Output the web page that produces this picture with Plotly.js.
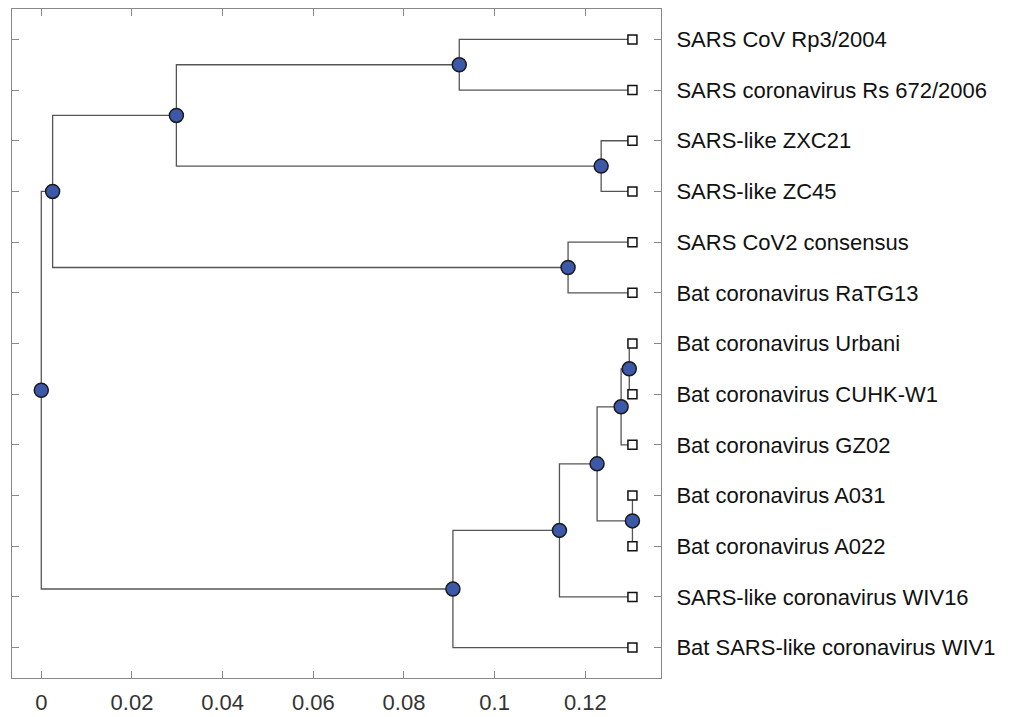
<!DOCTYPE html>
<html>
<head>
<meta charset="utf-8">
<script src="https://cdn.plot.ly/plotly-3.0.1.min.js"></script>
<style>html,body{margin:0;padding:0;background:#fff;}#chart{width:1011px;height:717px;}</style>
</head>
<body>
<div id="chart"></div>
<script>
// Leaf names (top to bottom)
const leafNames = [
  "SARS CoV Rp3/2004",
  "SARS coronavirus Rs 672/2006",
  "SARS-like ZXC21",
  "SARS-like ZC45",
  "SARS CoV2 consensus",
  "Bat coronavirus RaTG13",
  "Bat coronavirus Urbani",
  "Bat coronavirus CUHK-W1",
  "Bat coronavirus GZ02",
  "Bat coronavirus A031",
  "Bat coronavirus A022",
  "SARS-like coronavirus WIV16",
  "Bat SARS-like coronavirus WIV1"
];
// Leaf distances from root
const leafDist = [0.1304, 0.1304, 0.1304, 0.1304, 0.1304, 0.1304, 0.1304, 0.1304, 0.1304, 0.1304, 0.1304, 0.1304, 0.1304];

// Internal nodes: id, distance from root, children (Lk = leaf k, Nk = node k)
const nodeIds   = ["N0", "N1", "N2", "N3", "N4", "N5", "N6", "N7", "N8", "N9", "N10", "N11"];
const nodeDist  = [0.0, 0.0025, 0.0298, 0.0922, 0.1235, 0.1162, 0.0908, 0.1143, 0.1226, 0.1279, 0.1297, 0.1304];
const nodeKids  = [
  ["N1", "N6"],
  ["N2", "N5"],
  ["N3", "N4"],
  ["L0", "L1"],
  ["L2", "L3"],
  ["L4", "L5"],
  ["N7", "L12"],
  ["N8", "L11"],
  ["N9", "N11"],
  ["N10", "L8"],
  ["L6", "L7"],
  ["L9", "L10"]
];

const xTickVals = [0, 0.02, 0.04, 0.06, 0.08, 0.1, 0.12];
const xTickText = ["0", "0.02", "0.04", "0.06", "0.08", "0.1", "0.12"];

// ---- compute positions from tree structure ----
const pos = {};
leafNames.forEach((n, i) => { pos["L" + i] = {x: leafDist[i], y: i}; });
function place(id) {
  if (pos[id]) return pos[id];
  const k = nodeIds.indexOf(id);
  const ys = nodeKids[k].map(c => place(c).y);
  pos[id] = {x: nodeDist[k], y: (Math.min(...ys) + Math.max(...ys)) / 2};
  return pos[id];
}
nodeIds.forEach(place);

const lx = [], ly = [];
nodeIds.forEach((id, k) => {
  const p = pos[id];
  nodeKids[k].forEach(c => {
    const q = pos[c];
    lx.push(p.x, p.x, q.x, null);
    ly.push(p.y, q.y, q.y, null);
  });
});

const branches = {
  x: lx, y: ly, type: "scatter", mode: "lines",
  line: {color: "#555555", width: 1.3},
  hoverinfo: "skip", showlegend: false
};
const leaves = {
  x: leafNames.map((n, i) => pos["L" + i].x),
  y: leafNames.map((n, i) => pos["L" + i].y),
  text: leafNames,
  type: "scatter", mode: "markers",
  marker: {symbol: "square", size: 9, color: "#ffffff", line: {color: "#111", width: 1.5}},
  showlegend: false
};
const nodes = {
  x: nodeIds.map(id => pos[id].x),
  y: nodeIds.map(id => pos[id].y),
  type: "scatter", mode: "markers",
  marker: {symbol: "circle", size: 14, color: "#3c58a8", line: {color: "#1a1a1a", width: 1.5}},
  showlegend: false
};

const font = {family: "Liberation Sans, Arial, sans-serif", size: 22, color: "#222"};
const layout = {
  width: 1011, height: 717,
  margin: {l: 12, r: 350, t: 9, b: 39, pad: 0},
  paper_bgcolor: "#fff", plot_bgcolor: "#fff",
  font: font,
  showlegend: false,
  xaxis: {
    range: [-0.00646, 0.1367],
    tickvals: xTickVals, ticktext: xTickText,
    ticks: "inside", ticklen: 7, tickwidth: 1, tickcolor: "#888",
    showline: true, linecolor: "#888", linewidth: 1, mirror: "ticks",
    showgrid: false, zeroline: false,
    tickfont: {family: font.family, size: 22, color: "#333"},
    ticklabelstandoff: 5
  },
  yaxis: {
    range: [12.6, -0.6],
    side: "right",
    tickvals: leafNames.map((n, i) => i), ticktext: leafNames,
    ticks: "inside", ticklen: 7, tickwidth: 1, tickcolor: "#888",
    showline: true, linecolor: "#888", linewidth: 1, mirror: "ticks",
    showgrid: false, zeroline: false,
    tickfont: {family: font.family, size: 22, color: "#111"},
    ticklabelstandoff: 10
  }
};

Plotly.newPlot("chart", [branches, leaves, nodes], layout, {displayModeBar: false, staticPlot: true});
</script>
</body>
</html>
